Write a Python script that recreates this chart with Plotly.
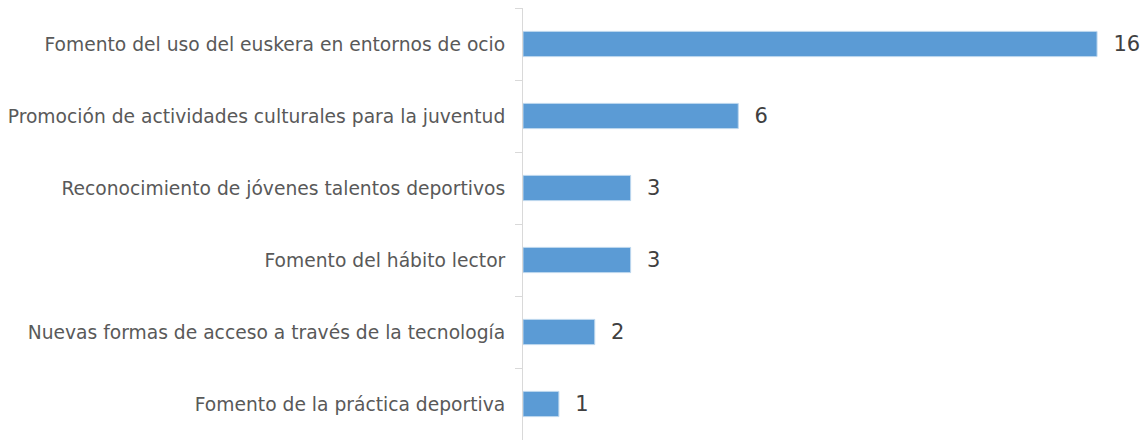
import plotly.graph_objects as go

categorias = [
    "Fomento del uso del euskera en entornos de ocio",
    "Promoción de actividades culturales para la juventud",
    "Reconocimiento de jóvenes talentos deportivos",
    "Fomento del hábito lector",
    "Nuevas formas de acceso a través de la tecnología",
    "Fomento de la práctica deportiva",
]
valores = [16, 6, 3, 3, 2, 1]

fig = go.Figure(go.Bar(
    x=valores, y=categorias, orientation="h",
    marker=dict(color="#5b9bd5", line=dict(color="#bdd7ee", width=1)),
    texttemplate="  %{x}", textposition="outside", cliponaxis=False,
    textfont=dict(family="DejaVu Sans", size=21, color="#404040"),
))

fig.update_layout(
    width=1148, height=443,
    margin=dict(l=523, r=0, t=8, b=3),
    plot_bgcolor="white", paper_bgcolor="white",
    bargap=0.65, showlegend=False,
    font=dict(family="DejaVu Sans", size=18.7, color="#595959"),
)
fig.update_xaxes(range=[0, 17.42], visible=False)
fig.update_yaxes(
    autorange="reversed", showline=True, linecolor="#d9d9d9", linewidth=1,
    ticks="outside", tickson="boundaries", ticklen=7, tickcolor="#d9d9d9",
    ticklabelstandoff=13, showgrid=False,
)

fig.write_html("out.html", config={"displayModeBar": False},
               post_script="document.body.style.margin='0';")
